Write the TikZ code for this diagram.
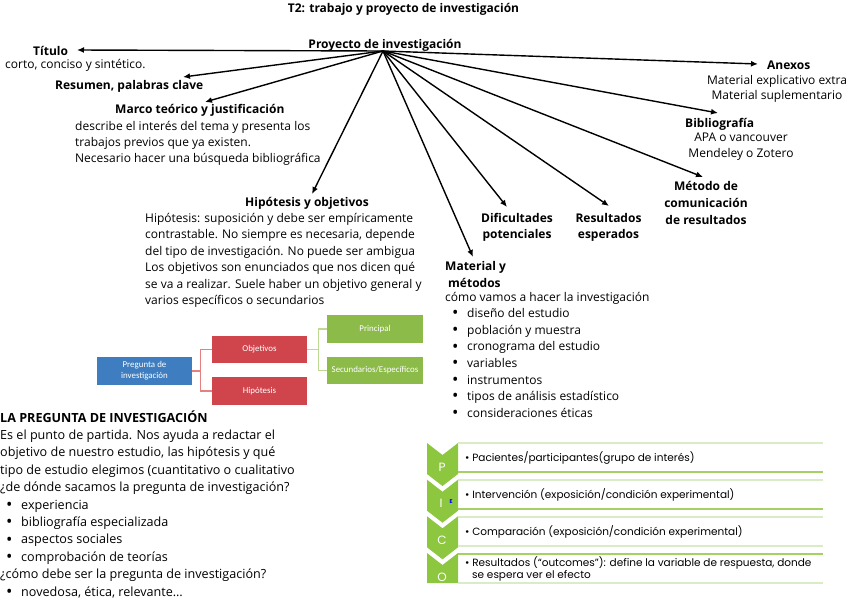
\documentclass[tikz,border=0pt]{standalone}
\usepackage{fontspec}
\setmainfont{Open Sans}
\newfontfamily\picofont{Poppins}
\newfontfamily\boxfont{Carlito}
\usetikzlibrary{arrows.meta}
\definecolor{bluebox}{RGB}{62,126,192}
\definecolor{redbox}{RGB}{208,69,76}
\definecolor{greenbox}{RGB}{141,187,74}
\definecolor{redline}{RGB}{228,130,130}
\definecolor{greenline}{RGB}{188,218,145}
\definecolor{chev}{RGB}{141,198,63}
\definecolor{lightrule}{RGB}{218,236,198}
\definecolor{midrule}{RGB}{165,208,100}
\newcommand{\itembul}{\makebox[14pt][l]{\hspace*{-1pt}{\fontsize{17}{12}\selectfont\raisebox{-1.2pt}{\textbullet}}}}
\begin{document}
\begin{tikzpicture}[x=1pt,y=-1pt,
  hd/.style={inner sep=0pt, align=center, font=\fontsize{12}{16.5}\selectfont\bfseries},
  bodytxt/.style={inner sep=0pt, align=left, font=\fontsize{12}{16.5}\selectfont},
  bigtxt/.style={inner sep=0pt, align=left, font=\fontsize{12.6}{17.4}\selectfont},
  arr/.style={line width=1.4pt, -{Latex[length=7pt,width=6pt]}},
  sabox/.style={minimum width=95pt, text=white, inner sep=1pt, align=center,
    font=\boxfont\fontsize{8.9}{11}\selectfont},
  picotxt/.style={inner sep=0pt, align=left, font=\picofont\fontsize{10.5}{12.5}\selectfont},
  picolet/.style={inner sep=0pt, text=white, font=\picofont\fontsize{12}{12}\selectfont},
  rulelight/.style={lightrule, line width=1.2pt},
  rulemid/.style={midrule, line width=1.2pt}
]
\useasboundingbox (0,0) rectangle (848,600);

% ---------- title and hub ----------
\node[hd, anchor=base] (t2) at (403.5,12) {T2: trabajo y proyecto de investigación};
\node[hd, anchor=base] (proy) at (385,48) {Proyecto de investigación};
\coordinate (hub) at (383,51);

% ---------- labels (multi-line nodes: base = last line) ----------
\node[hd, anchor=base west] (tit) at (33,55) {Título};
\node[bodytxt, anchor=base west] (titd) at (5,68) {corto, conciso y sintético.};
\node[hd, anchor=base west] (res) at (55,89) {Resumen, palabras clave};
\node[hd, anchor=base west] (mar) at (115,113) {Marco teórico y justificación};
\node[bodytxt, anchor=base west, font=\fontsize{12}{16.2}\selectfont] (mard) at (75,162.4)
  {describe el interés del tema y presenta los\\trabajos previos que ya existen.\\Necesario hacer una búsqueda bibliográfica};
\node[hd, anchor=base west] (hip) at (245,206) {Hipótesis y objetivos};
\node[bodytxt, anchor=base west] (hipd) at (145,304.5)
  {Hipótesis: suposición y debe ser empíricamente\\contrastable. No siempre es necesaria, depende\\del tipo de investigación. No puede ser ambigua\\Los objetivos son enunciados que nos dicen qué\\se va a realizar. Suele haber un objetivo general y\\varios específicos o secundarios};
\node[hd, anchor=base west, align=left, font=\fontsize{12}{17}\selectfont\bfseries] (mat) at (445,287) {Material y\\\hspace*{3pt}métodos};
\node[bodytxt, anchor=base west, font=\fontsize{12}{16.6}\selectfont] (matd) at (445,417.2)
  {cómo vamos a hacer la investigación\\
   \hspace*{8pt}\itembul diseño del estudio\\
   \hspace*{8pt}\itembul población y muestra\\
   \hspace*{8pt}\itembul cronograma del estudio\\
   \hspace*{8pt}\itembul variables\\
   \hspace*{8pt}\itembul instrumentos\\
   \hspace*{8pt}\itembul tipos de análisis estadístico\\
   \hspace*{8pt}\itembul consideraciones éticas};
\node[hd, anchor=base, font=\fontsize{12}{16}\selectfont\bfseries] (dif) at (517,238) {Dificultades\\potenciales};
\node[hd, anchor=base, font=\fontsize{12}{16}\selectfont\bfseries] (resu) at (608.5,238) {Resultados\\esperados};
\node[hd, anchor=base, font=\fontsize{12}{17}\selectfont\bfseries] (met) at (706,224) {Método de\\comunicación\\de resultados};
\node[hd, anchor=base west] (bib) at (685,127) {Bibliografía};
\node[bodytxt, anchor=base, align=center] (bibd) at (741,157.5) {APA o vancouver\\Mendeley o Zotero};
\node[hd, anchor=base west] (ane) at (767,69) {Anexos};
\node[bodytxt, anchor=base, align=center, font=\fontsize{12}{15}\selectfont] (aned) at (777,99) {Material explicativo extra\\Material suplementario};

% ---------- arrows ----------
\coordinate (tTit) at (77,50);
\coordinate (tRes) at (183,77);
\coordinate (tMar) at (205,102);
\coordinate (tHip) at (312,194);
\coordinate (tMat) at (473,257);
\coordinate (tDif) at (507,207);
\coordinate (tResu) at (609,206);
\coordinate (tMet) at (703,177);
\coordinate (tBib) at (718,113);
\coordinate (tAne) at (758,64);
\foreach \t in {tTit,tRes,tMar,tHip,tMat,tDif,tResu,tMet,tBib,tAne}
  \draw[arr] (hub) -- (\t);

% ---------- small hierarchy diagram ----------
\node[sabox, fill=bluebox, minimum height=28pt] (preg) at (144.5,371) {Pregunta de\\investigación};
\node[sabox, fill=redbox, minimum height=27pt] (obj) at (259.5,349.5) {Objetivos};
\node[sabox, fill=redbox, minimum height=28pt] (hipb) at (259.5,391) {Hipótesis};
\node[sabox, fill=greenbox, minimum height=28pt, minimum width=96pt] (prin) at (375,329) {Principal};
\node[sabox, fill=greenbox, minimum height=27pt, minimum width=96pt] (sec) at (375,370.5) {Secundarios/Específicos};
\draw[redline, line width=1.3pt] (preg.east) -- ++(8,0) |- (obj.west);
\draw[redline, line width=1.3pt] (preg.east) -- ++(8,0) |- (hipb.west);
\draw[greenline, line width=1.3pt] (obj.east) -- ++(11,0) |- (prin.west);
\draw[greenline, line width=1.3pt] (obj.east) -- ++(11,0) |- (sec.west);

% ---------- la pregunta de investigacion ----------
\node[inner sep=0pt, anchor=base west, font=\fontsize{12.6}{17.5}\selectfont\bfseries] (lap) at (0,422) {LA PREGUNTA DE INVESTIGACIÓN};
\node[bigtxt, anchor=base west] (lapd) at (0,596)
  {Es el punto de partida. Nos ayuda a redactar el\\
   objetivo de nuestro estudio, las hipótesis y qué\\
   tipo de estudio elegimos (cuantitativo o cualitativo\\
   ¿de dónde sacamos la pregunta de investigación?\\
   \hspace*{7pt}\itembul experiencia\\
   \hspace*{7pt}\itembul bibliografía especializada\\
   \hspace*{7pt}\itembul aspectos sociales\\
   \hspace*{7pt}\itembul comprobación de teorías\\
   ¿cómo debe ser la pregunta de investigación?\\
   \hspace*{7pt}\itembul novedosa, ética, relevante…};

% ---------- PICO ----------
\foreach \T in {443,479.7,516.3}
  \fill[chev] (427,\T) -- (442.5,\T+12) -- (458,\T) -- (458,\T+31) -- (442.5,\T+43) -- (427,\T+31) -- cycle;
\fill[chev] (427,553) -- (442.5,565) -- (458,553) -- (458,583) -- (427,583) -- cycle;
\draw[rulelight] (458,443) -- (823,443);
\draw[rulemid] (458,472) -- (823,472);
\draw[rulelight] (458,480) -- (823,480);
\draw[rulemid] (458,509) -- (823,509);
\draw[rulelight] (458,517) -- (823,517);
\draw[rulelight] (458,546) -- (823,546);
\draw[rulemid] (458,554) -- (823,554);
\draw[rulelight] (458,583) -- (823,583);
\node[picolet] (lp) at (442,467) {P};
\node[picolet] (li) at (441,503) {I};
\node[inner sep=0pt, text=blue, font=\picofont\fontsize{5.5}{6}\selectfont\bfseries] (le) at (451,502) {E};
\node[picolet] (lc) at (442,540) {C};
\node[picolet] (lo) at (442,577) {O};
\node[picotxt, anchor=west] (pp) at (465,458) {• Pacientes/participantes(grupo de interés)};
\node[picotxt, anchor=west] (pi) at (465,495) {• Intervención (exposición/condición experimental)};
\node[picotxt, anchor=west] (pc) at (465,532) {• Comparación (exposición/condición experimental)};
\node[picotxt, anchor=west] (po) at (465,569) {• Resultados (“outcomes”): define la variable de respuesta, donde\\\hspace*{7pt}se espera ver el efecto};
\end{tikzpicture}
\end{document}
